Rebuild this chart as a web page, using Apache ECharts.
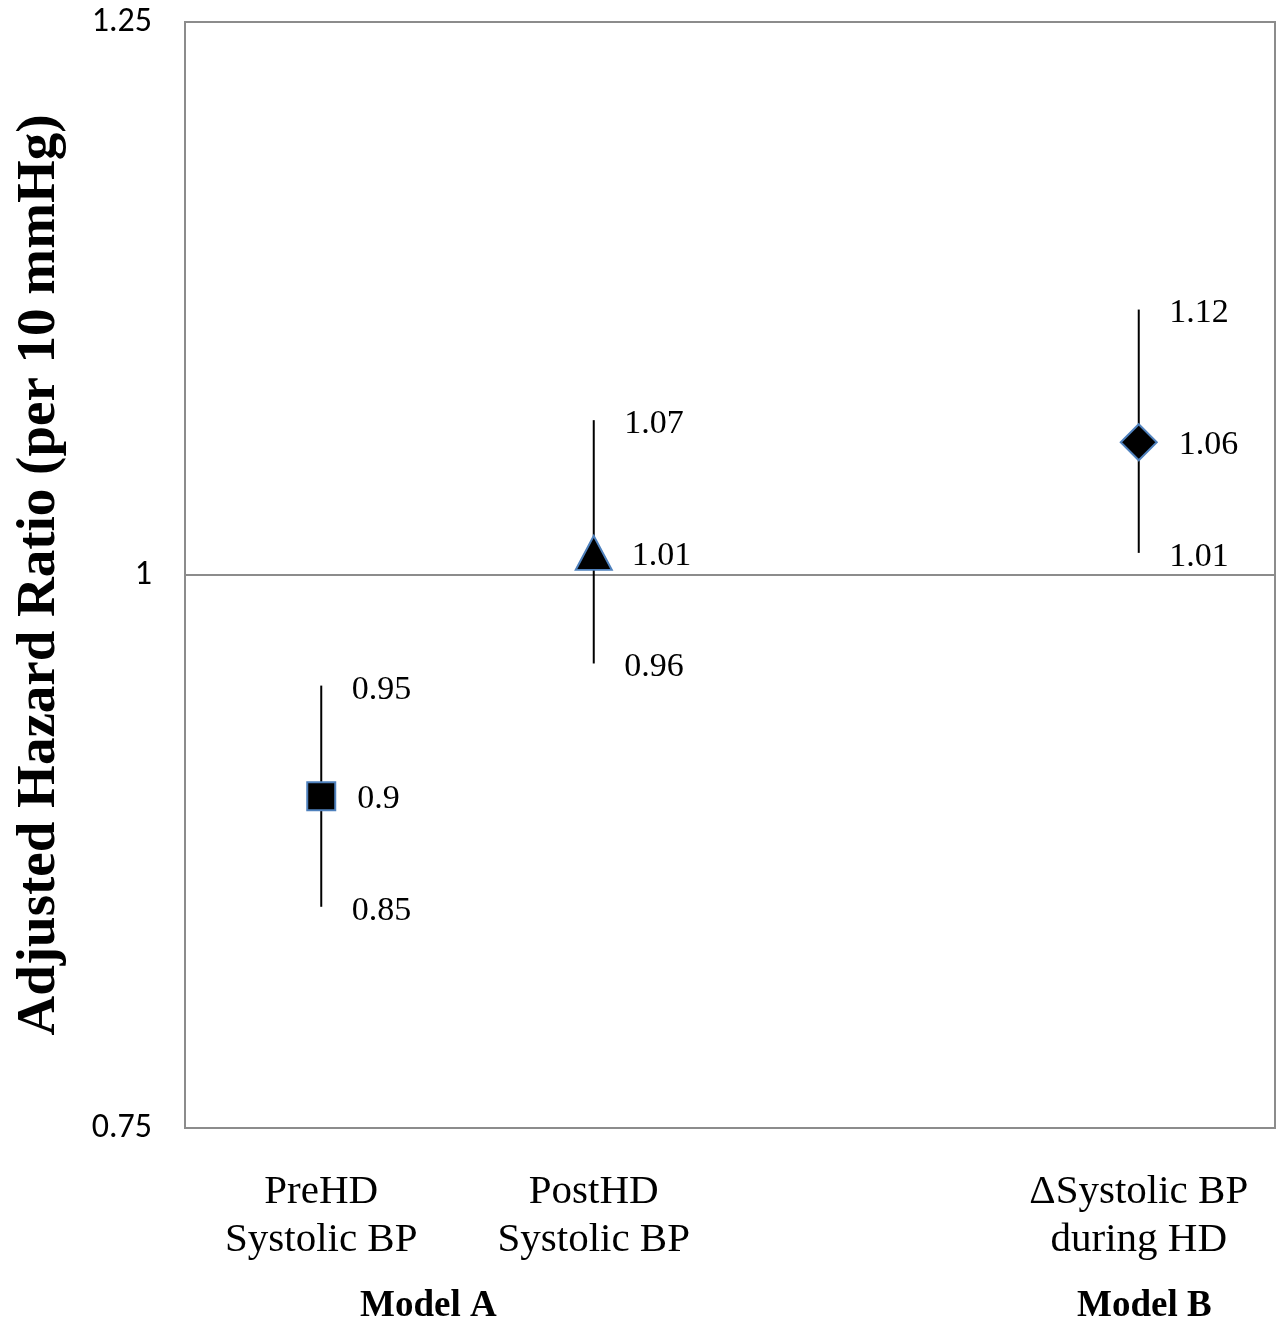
<!DOCTYPE html>
<html><head><meta charset="utf-8">
<script src="https://cdn.jsdelivr.net/npm/echarts@6/dist/echarts.min.js"></script>
<style>html,body{margin:0;padding:0;background:#fff}#c{width:1283px;height:1328px}</style>
</head><body><div id="c"></div>
<script>
const categories = ["PreHD\nSystolic BP", "PostHD\nSystolic BP", "", "\u0394Systolic BP\nduring HD"];
const hrValues = [0.90, 1.01, null, 1.06];
const lowerCI = [0.85, 0.96, null, 1.01];
const upperCI = [0.95, 1.07, null, 1.12];
const markerSymbols = ["rect", "triangle", "none", "diamond"];
const markerSizes = [[28, 28], [36, 34], [0, 0], [36, 36]];
const yTicks = [0.75, 1, 1.25];
const modelLabels = ["Model A", "Model B"];

const serif = "'Liberation Serif','Times New Roman',serif";
const chart = echarts.init(document.getElementById('c'));

const idx = [0, 1, 3];
const lblStyle = {show: true, position: 'right', fontFamily: serif, fontSize: 34, color: '#000',
  formatter: p => String(p.value[1])};

chart.setOption({
  animation: false,
  grid: {left: 185, right: 8, top: 22, bottom: 200, show: true, borderColor: '#8c8c8c', borderWidth: 2},
  xAxis: {
    type: 'category', data: categories, boundaryGap: true,
    axisLine: {lineStyle: {color: '#8c8c8c', width: 2}}, axisTick: {show: false},
    axisLabel: {fontFamily: serif, fontSize: 41, color: '#000', lineHeight: 48, margin: 40, interval: 0}
  },
  yAxis: {
    type: 'value', min: 0.75, max: 1.25, interval: 0.25,
    name: 'Adjusted Hazard Ratio (per 10 mmHg)', nameLocation: 'middle', nameGap: 118,
    nameTextStyle: {fontFamily: serif, fontWeight: 'bold', fontSize: 55, color: '#000'},
    axisLine: {show: true, lineStyle: {color: '#8c8c8c', width: 2}}, axisTick: {show: false},
    axisLabel: {fontFamily: "'Carlito','Liberation Sans',sans-serif", fontSize: 34, color: '#000', margin: 33,
      formatter: v => yTicks.includes(+v.toFixed(2)) ? String(+v.toFixed(2)) : ''},
    splitLine: {show: true, lineStyle: {color: '#8c8c8c', width: 2}}
  },
  series: [
    {
      type: 'custom', z: 2,
      renderItem: (params, api) => {
        const x = api.value(0);
        const lo = api.coord([x, api.value(1)]);
        const hi = api.coord([x, api.value(2)]);
        return {type: 'line', shape: {x1: lo[0], y1: lo[1], x2: hi[0], y2: hi[1]},
          style: {stroke: '#000', lineWidth: 2}};
      },
      encode: {x: 0, y: [1, 2]},
      data: idx.map(i => [i, lowerCI[i], upperCI[i]])
    },
    {
      type: 'scatter', z: 5,
      data: idx.map(i => ({value: [i, hrValues[i]], symbol: markerSymbols[i], symbolSize: markerSizes[i],
        label: {offset: [i === 1 ? -2 : 0, 3]}})),
      itemStyle: {color: '#000', borderColor: '#4f81bd', borderWidth: 2, opacity: 1},
      label: Object.assign({}, lblStyle, {distance: 21})
    },
    {
      type: 'scatter', z: 3, symbol: 'circle', symbolSize: 1, itemStyle: {color: 'rgba(0,0,0,0)', opacity: 1},
      data: idx.map(i => [i, upperCI[i]]),
      label: Object.assign({}, lblStyle, {distance: 30, offset: [0, 4]})
    },
    {
      type: 'scatter', z: 3, symbol: 'circle', symbolSize: 1, itemStyle: {color: 'rgba(0,0,0,0)', opacity: 1},
      data: idx.map(i => [i, lowerCI[i]]),
      label: Object.assign({}, lblStyle, {distance: 30, offset: [0, 4]})
    }
  ],
  graphic: [
    {type: 'text', left: 360, top: 1288, style: {text: modelLabels[0], font: "bold 37px " + serif, fill: '#000'}},
    {type: 'text', left: 1077, top: 1288, style: {text: modelLabels[1], font: "bold 37px " + serif, fill: '#000'}}
  ]
});
</script></body></html>
